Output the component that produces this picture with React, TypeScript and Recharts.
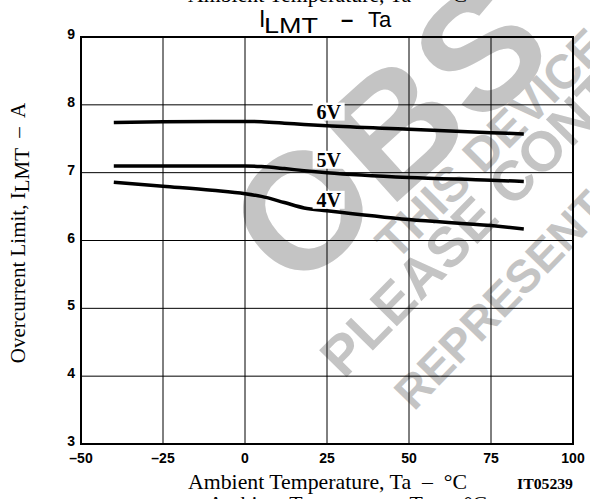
import React from 'react';
import { LineChart, Line, XAxis, YAxis, CartesianGrid, ReferenceArea, ReferenceDot, Label } from 'recharts';

const temps = [-40, -25, -10, 0, 5, 12, 18, 25, 50, 75, 85];
const v6 = [7.74, 7.75, 7.755, 7.755, 7.75, 7.73, 7.71, 7.69, 7.64, 7.59, 7.57];
const v5 = [7.1, 7.1, 7.1, 7.1, 7.09, 7.06, 7.03, 7.0, 6.93, 6.89, 6.87];
const v4 = [6.86, 6.8, 6.74, 6.69, 6.65, 6.56, 6.48, 6.44, 6.31, 6.22, 6.17];
const xTicks = [-50, -25, 0, 25, 50, 75, 100];
const yTicks = [3, 4, 5, 6, 7, 8, 9];
const seriesNames = ['6V', '5V', '4V'];
const labelTemp = 25.5;
const labelValues = [7.9, 7.19, 6.6];

const data = temps.map((t, i) => ({ t, v6: v6[i], v5: v5[i], v4: v4[i] }));

const serif = '"Liberation Serif", "DejaVu Serif", serif';
const sans = '"Liberation Sans", Arial, sans-serif';
const pre = { whiteSpace: 'pre' } as React.CSSProperties;

const XTick = (props: any) => {
  const { x, y, payload } = props;
  const v = payload.value;
  const s = v < 0 ? '\u2013' + Math.abs(v) : String(v);
  return (
    <text x={x} y={y + 11} textAnchor="middle" fontFamily={sans} fontWeight="bold" fontSize={14} fill="#000">
      {s}
    </text>
  );
};

const YTick = (props: any) => {
  const { x, y, payload } = props;
  return (
    <text x={x} y={y + 2} textAnchor="end" fontFamily={sans} fontWeight="bold" fontSize={14} fill="#000">
      {payload.value}
    </text>
  );
};

const makeTag = (txt: string) => (props: any) => {
  const { cx, cy } = props;
  return (
    <g>
      <rect x={cx - 16} y={cy - 9} width={32} height={18} fill="#fff" />
      <text x={cx} y={cy + 7} textAnchor="middle" fontFamily={serif} fontWeight="bold" fontSize={20} fill="#000">
        {txt}
      </text>
    </g>
  );
};

const XLabel = () => (
  <text x={188} y={489} fontFamily={serif} fontSize={21} fill="#000" textLength={279} lengthAdjust="spacingAndGlyphs" style={pre}>
    {'Ambient Temperature, Ta  \u2013  °C'}
  </text>
);

const YLabel = () => (
  <text
    transform="rotate(-90, 25, 233)"
    x={25}
    y={233}
    textAnchor="middle"
    fontFamily={serif}
    fontSize={21}
    fill="#000"
    style={pre}
  >
    {'Overcurrent Limit, I'}
    <tspan dy={4}>LMT</tspan>
    <tspan dy={-4}>{'  \u2013  A'}</tspan>
  </text>
);

export default function App() {
  return (
    <div style={{ position: 'absolute', left: 0, top: 0, width: 590, height: 499, background: '#fff' }}>
      <svg width={590} height={499} style={{ position: 'absolute', left: 0, top: 0, zIndex: 0 }}>
        <g fill="#c4c4c4" fontFamily={sans} fontWeight="bold">
          <text transform="translate(387,132) rotate(-42)" x={0} y={59} fontSize={165} textAnchor="middle">
            OBS
          </text>
          <text transform="translate(396,262) rotate(-45)" fontSize={48}>THIS DEVICE IS</text>
          <text transform="translate(344,380) rotate(-45.5)" fontSize={56}>PLEASE CONTACT</text>
          <text transform="translate(414,412) rotate(-46)" fontSize={46}>REPRESENTATIVE</text>
        </g>
        <text x={188} y={2} fontFamily={serif} fontSize={21} fill="#000" textLength={279} lengthAdjust="spacingAndGlyphs" style={pre}>
          {'Ambient Temperature, Ta  \u2013  °C'}
        </text>
        <text x={208} y={511} fontFamily={serif} fontSize={21} fill="#000" textLength={279} lengthAdjust="spacingAndGlyphs" style={pre}>
          {'Ambient Temperature, Ta  \u2013  °C'}
        </text>
        <g fontFamily={sans} fontSize={22} fill="#000">
          <text x={259} y={27} fontSize={23}>I</text>
          <text x={264} y={33} textLength={54} lengthAdjust="spacingAndGlyphs">LMT</text>
          <text x={341} y={27} fontWeight="bold">{'\u2013'}</text>
          <text x={368} y={27}>Ta</text>
        </g>
        <text x={517} y={489} fontFamily={serif} fontSize={15} fontWeight="bold" fill="#000" textLength={56} lengthAdjust="spacingAndGlyphs">
          IT05239
        </text>
      </svg>
      <div style={{ position: 'absolute', left: 0, top: 0, zIndex: 1 }}>
        <LineChart width={590} height={499} data={data} margin={{ top: 37, right: 17, bottom: 25, left: 51 }}>
          <CartesianGrid stroke="#000" strokeWidth={1} />
          <XAxis
            dataKey="t"
            type="number"
            domain={[-50, 100]}
            ticks={xTicks}
            tickLine={false}
            axisLine={false}
            height={30}
            tick={<XTick />}
            interval={0}
          >
            <Label content={<XLabel />} />
          </XAxis>
          <YAxis
            type="number"
            domain={[3, 9]}
            ticks={yTicks}
            tickLine={false}
            axisLine={false}
            width={30}
            tickMargin={0}
            tick={<YTick />}
            interval={0}
          >
            <Label content={<YLabel />} />
          </YAxis>
          <ReferenceArea x1={-50} x2={100} y1={3} y2={9} fill="none" fillOpacity={0} stroke="#000" strokeWidth={2} />
          <Line dataKey="v6" name={seriesNames[0]} type="monotone" stroke="#000" strokeWidth={3.5} dot={false} activeDot={false} isAnimationActive={false} />
          <Line dataKey="v5" name={seriesNames[1]} type="monotone" stroke="#000" strokeWidth={3.5} dot={false} activeDot={false} isAnimationActive={false} />
          <Line dataKey="v4" name={seriesNames[2]} type="monotone" stroke="#000" strokeWidth={3.5} dot={false} activeDot={false} isAnimationActive={false} />
          {seriesNames.map((n, i) => (
            <ReferenceDot key={n} x={labelTemp} y={labelValues[i]} r={0} shape={makeTag(n)} />
          ))}
        </LineChart>
      </div>
    </div>
  );
}
